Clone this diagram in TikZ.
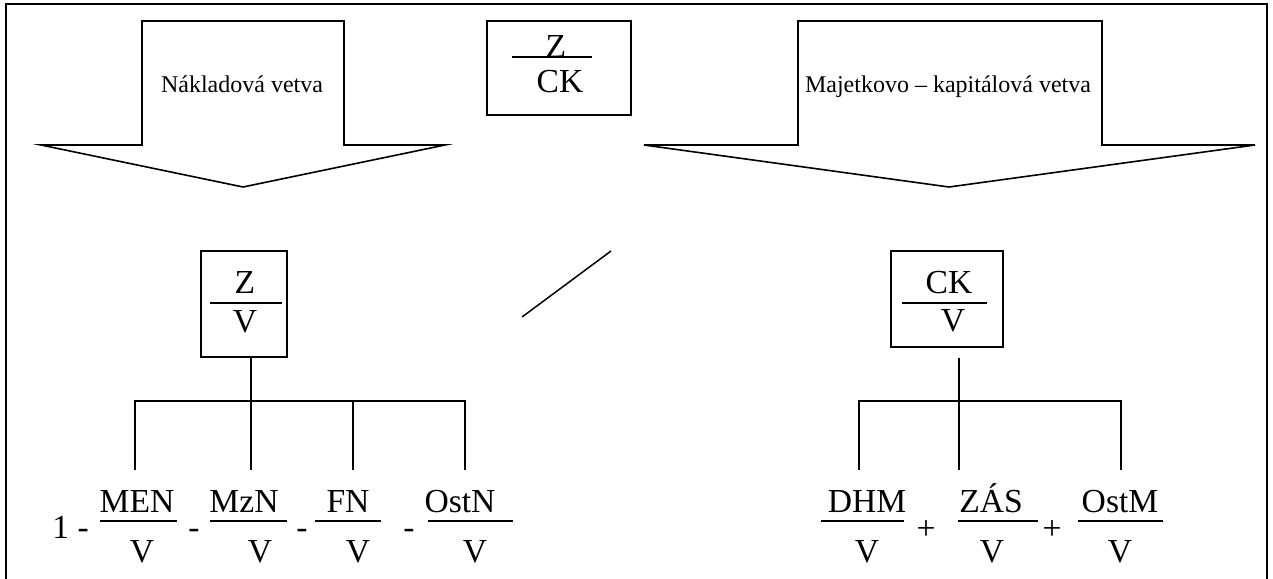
\documentclass[tikz,border=0pt]{standalone}
\usepackage{fontspec}
\setmainfont{Liberation Serif}
\begin{document}
\begin{tikzpicture}[x=0.5pt,y=-0.5pt,
  frame/.style={line width=1pt},
  arrowshape/.style={draw,line width=0.8pt,line join=miter},
  conn/.style={line width=0.75pt},
  fracline/.style={line width=0.65pt},
  lbl/.style={font=\fontsize{12}{14}\selectfont, inner sep=0pt, anchor=base},
  ftxt/.style={font=\fontsize{16.8}{19}\selectfont, inner sep=0pt, anchor=base},
  boxnode/.style={draw,line width=0.8pt,inner sep=0pt}
]
\useasboundingbox (0,0) rectangle (1273,578);
% outer frame (bottom edge cut off)
\draw[frame] (6,582) -- (6,4) -- (1267,4) -- (1267,582);

% block arrows
\draw[arrowshape] (142,21) -- (344,21) -- (344,145) -- (445,145) -- (243,187) -- (41,145) -- (142,145) -- cycle;
\node[lbl] (lefttxt) at (242,92) {Nákladová vetva};
\draw[arrowshape] (798,21) -- (1102,21) -- (1102,145) -- (1255,145) -- (949,187) -- (644,145) -- (798,145) -- cycle;
\node[lbl] (righttxt) at (948,92) {Majetkovo – kapitálová vetva};

% boxes
\node[boxnode, minimum width=72pt, minimum height=47pt] (zck) at (559,68) {};
\draw[fracline] (512,57) -- (592,57);
\node[ftxt] (zckn) at (556,57) {Z};
\node[ftxt] (zckd) at (560,92) {CK};

\node[boxnode, minimum width=43pt, minimum height=53pt] (zv) at (244,304) {};
\draw[fracline] (210,303) -- (282,303);
\node[ftxt] (zvn) at (245,293) {Z};
\node[ftxt] (zvd) at (245,332) {V};

\node[boxnode, minimum width=56pt, minimum height=48pt] (ckv) at (947,299) {};
\draw[fracline] (902,303) -- (987,303);
\node[ftxt] (ckvn) at (949,293) {CK};
\node[ftxt] (ckvd) at (953,331) {V};

% slash
\draw[conn] (522,317) -- (611,251);

% left tree
\coordinate (lbar) at (251,401);
\coordinate (lb1) at (135,401);
\coordinate (lb4) at (465,401);
\coordinate (lb3) at (353,401);
\coordinate (ld1) at (135,470);
\coordinate (ld2) at (251,470);
\coordinate (ld3) at (353,470);
\coordinate (ld4) at (465,470);
\draw[conn] (zv.south -| lbar) -- (lbar);
\draw[conn] (ld1) -- (lb1) -- (lb4) -- (ld4);
\draw[conn] (lbar) -- (ld2);
\draw[conn] (lb3) -- (ld3);

% right tree
\coordinate (rbar) at (959,401);
\coordinate (rb1) at (859,401);
\coordinate (rb3) at (1121,401);
\coordinate (rd1) at (859,470);
\coordinate (rd2) at (959,470);
\coordinate (rd3) at (1121,470);
\draw[conn] ([yshift=-5pt]ckv.south -| rbar) -- (rbar);
\draw[conn] (rd1) -- (rb1) -- (rb3) -- (rd3);
\draw[conn] (rbar) -- (rd2);

% left formula
\node[ftxt, anchor=base west] (one) at (52,538) {1 -};
\node[ftxt] (men) at (137,512) {MEN};
\draw[fracline] (100,521) -- (177,521);
\node[ftxt] (men2) at (142,562) {V};
\node[ftxt] (m1) at (194,538) {-};
\node[ftxt] (mzn) at (244,512) {MzN};
\draw[fracline] (210,521) -- (287,521);
\node[ftxt] (mzn2) at (260,562) {V};
\node[ftxt] (m2) at (302,538) {-};
\node[ftxt] (fn) at (348,512) {FN};
\draw[fracline] (315,521) -- (381,521);
\node[ftxt] (fn2) at (358,562) {V};
\node[ftxt] (m3) at (409,538) {-};
\node[ftxt] (ostn) at (460,512) {OstN};
\draw[fracline] (428,521) -- (513,521);
\node[ftxt] (ostn2) at (475,562) {V};

% right formula
\node[ftxt] (dhm) at (867,512) {DHM};
\draw[fracline] (821,521) -- (904,521);
\node[ftxt] (dhm2) at (867,562) {V};
\node[ftxt] (p1) at (926,539) {+};
\node[ftxt] (zas) at (991,512) {ZÁS};
\draw[fracline] (958,521) -- (1038,521);
\node[ftxt] (zas2) at (992,562) {V};
\node[ftxt] (p2) at (1052,539) {+};
\node[ftxt] (ostm) at (1120,512) {OstM};
\draw[fracline] (1078,521) -- (1163,521);
\node[ftxt] (ostm2) at (1120,562) {V};
\end{tikzpicture}
\end{document}
